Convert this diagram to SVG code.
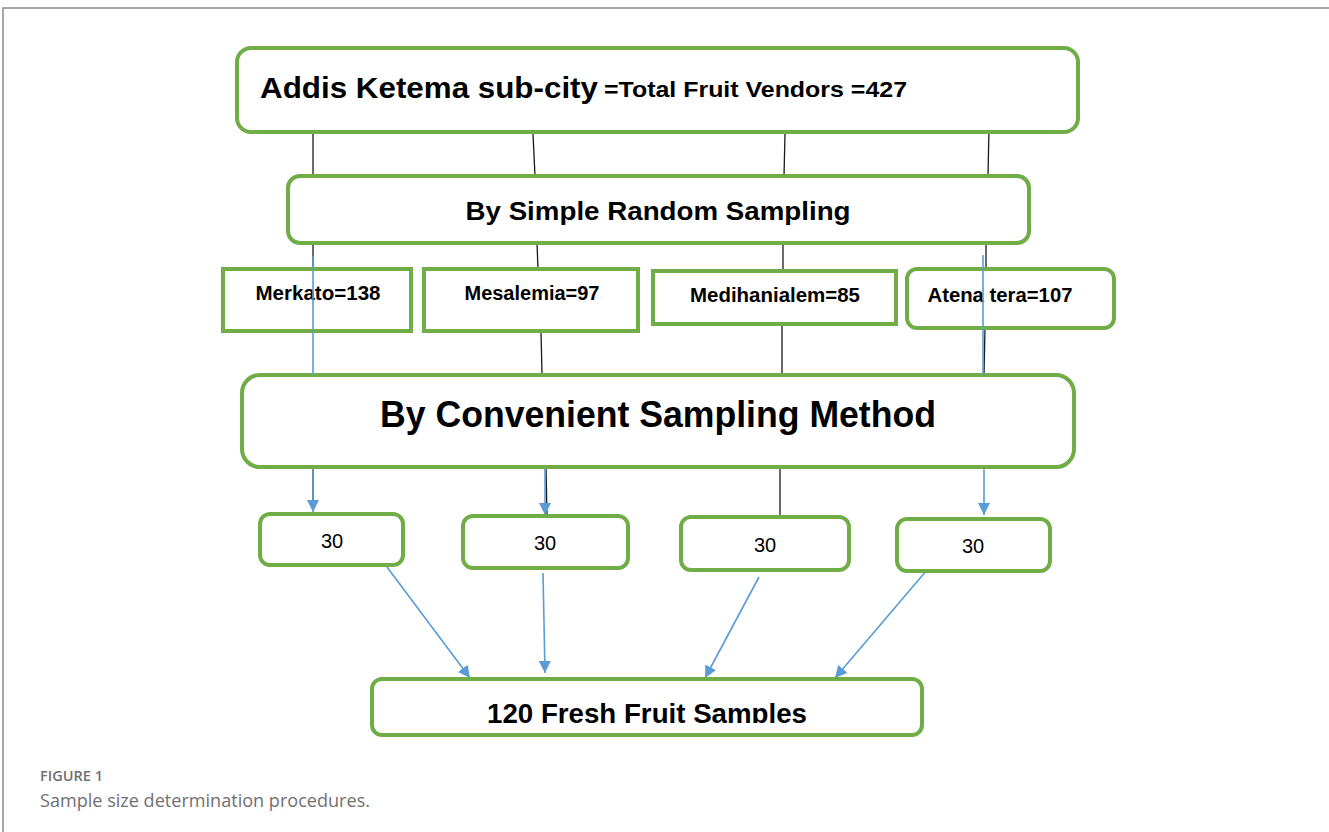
<svg xmlns="http://www.w3.org/2000/svg" width="1329" height="832" viewBox="0 0 1329 832">
  <style>
    .box { fill: #ffffff; stroke: #70AD47; stroke-width: 4; }
    .t { font-family: "Liberation Sans", Arial, sans-serif; font-weight: bold; fill: #000; text-anchor: middle; }
    .ts { font-family: "Liberation Sans", Arial, sans-serif; font-weight: bold; fill: #000; text-anchor: start; }
    .n { font-family: "Liberation Sans", Arial, sans-serif; fill: #000; text-anchor: middle; font-size: 20px; }
    .blk { stroke: #1a1a1a; stroke-width: 1.3; fill: none; }
    .blu { stroke: #5B9BD5; stroke-width: 1.6; fill: none; }
    .arr { stroke: #5B9BD5; stroke-width: 1.6; fill: none; marker-end: url(#head); }
    .cap { font-family: "Open Sans", "Liberation Sans", sans-serif; fill: #707070; }
  </style>
  <defs>
    <marker id="head" markerUnits="userSpaceOnUse" markerWidth="12" markerHeight="12" refX="12" refY="6" orient="auto">
      <path d="M0,0 L12,6 L0,12 z" fill="#5B9BD5"/>
    </marker>
    <clipPath id="bottomClip">
      <rect x="372" y="679" width="552" height="44"/>
    </clipPath>
  </defs>

  <rect width="1329" height="832" fill="#ffffff"/>

  <!-- page frame -->
  <path d="M3,832 V8 H1329" fill="none" stroke="#8c8c8c" stroke-width="1.5"/>

  <!-- connectors drawn beneath the boxes -->
  <g id="connectors">
    <!-- top box to simple random sampling -->
    <line class="blk" x1="313" y1="128" x2="313" y2="176"/>
    <line class="blk" x1="533" y1="134" x2="535" y2="176"/>
    <line class="blk" x1="785" y1="134" x2="784" y2="176"/>
    <line class="blk" x1="989" y1="128" x2="988" y2="176"/>
    <!-- simple random sampling to districts -->
    <line class="blk" x1="313" y1="243" x2="313" y2="269"/>
    <line class="blk" x1="537" y1="243" x2="538" y2="269"/>
    <line class="blk" x1="783" y1="243" x2="783" y2="271"/>
    <line class="blk" x1="986" y1="243" x2="986" y2="269"/>
    <!-- districts to convenient sampling -->
    <line class="blk" x1="541" y1="331" x2="542" y2="375"/>
    <line class="blk" x1="782" y1="324" x2="782" y2="375"/>
    <line class="blk" x1="985" y1="328" x2="984" y2="375"/>
    <!-- convenient sampling to sample boxes -->
    <line class="blk" x1="313" y1="467" x2="313" y2="510"/>
    <line class="blk" x1="546" y1="467" x2="547" y2="516"/>
    <line class="blk" x1="780" y1="467" x2="780" y2="517"/>
    <!-- arrows into the sample boxes and the total -->
    <line class="arr" x1="313" y1="467" x2="313" y2="512"/>
    <line class="arr" x1="545" y1="467" x2="545" y2="515"/>
    <line class="arr" x1="984" y1="467" x2="984" y2="515"/>
    <line class="arr" x1="387" y1="567" x2="470" y2="678"/>
    <line class="arr" x1="543" y1="573" x2="545" y2="673"/>
    <line class="arr" x1="759" y1="577" x2="705" y2="678"/>
    <line class="arr" x1="927" y1="570" x2="835" y2="678"/>
  </g>

  <g id="subcity">
    <rect class="box" x="237" y="48" width="841" height="84" rx="14"/>
    <text class="ts" x="260" y="98" font-size="30" textLength="338" lengthAdjust="spacingAndGlyphs">Addis Ketema sub-city</text>
    <text class="ts" x="604" y="97" font-size="22" textLength="303" lengthAdjust="spacingAndGlyphs">=Total Fruit Vendors =427</text>
  </g>

  <g id="simple-random">
    <rect class="box" x="288" y="176" width="741" height="67" rx="12"/>
    <text class="t" x="658" y="220" font-size="25" textLength="385" lengthAdjust="spacingAndGlyphs">By Simple Random Sampling</text>
  </g>

  <g id="merkato">
    <rect class="box" x="223" y="269" width="188" height="62"/>
    <text class="t" x="318" y="300" font-size="20" textLength="125" lengthAdjust="spacingAndGlyphs">Merkato=138</text>
  </g>
  <g id="mesalemia">
    <rect class="box" x="424" y="269" width="214" height="62"/>
    <text class="t" x="532" y="300" font-size="20" textLength="135" lengthAdjust="spacingAndGlyphs">Mesalemia=97</text>
  </g>
  <g id="medihanialem">
    <rect class="box" x="653" y="271" width="243" height="53"/>
    <text class="t" x="775" y="302" font-size="20" textLength="170" lengthAdjust="spacingAndGlyphs">Medihanialem=85</text>
  </g>
  <g id="atena-tera">
    <rect class="box" x="907" y="269" width="207" height="59" rx="10"/>
    <text class="t" x="1000" y="302" font-size="20" textLength="145" lengthAdjust="spacingAndGlyphs">Atena tera=107</text>
  </g>

  <g id="convenient">
    <rect class="box" x="242" y="375" width="832" height="92" rx="18"/>
    <text class="t" x="658" y="427" font-size="36" textLength="556" lengthAdjust="spacingAndGlyphs">By Convenient Sampling Method</text>
  </g>

  <g id="sample-merkato">
    <rect class="box" x="260" y="514" width="143" height="51" rx="10"/>
    <text class="n" x="332" y="548">30</text>
  </g>
  <g id="sample-mesalemia">
    <rect class="box" x="463" y="516" width="165" height="52" rx="10"/>
    <text class="n" x="545" y="550">30</text>
  </g>
  <g id="sample-medihanialem">
    <rect class="box" x="681" y="517" width="168" height="53" rx="10"/>
    <text class="n" x="765" y="552">30</text>
  </g>
  <g id="sample-atena">
    <rect class="box" x="897" y="519" width="153" height="52" rx="10"/>
    <text class="n" x="973" y="553">30</text>
  </g>

  <g id="total-samples">
    <rect class="box" x="372" y="679" width="550" height="56" rx="10"/>
    <text class="t" x="647" y="723" font-size="27" textLength="320" lengthAdjust="spacingAndGlyphs" clip-path="url(#bottomClip)">120 Fresh Fruit Samples</text>
  </g>

  <!-- blue flow lines that run across the district boxes -->
  <g id="flow-overlay">
    <line class="blu" x1="313" y1="256" x2="313" y2="375"/>
    <line class="blu" x1="983" y1="255" x2="983" y2="375"/>
  </g>

  <!-- caption -->
  <text class="cap" x="40" y="781" font-size="15" font-weight="600" textLength="63" lengthAdjust="spacingAndGlyphs">FIGURE 1</text>
  <text class="cap" x="40" y="807" font-size="18" textLength="330" lengthAdjust="spacingAndGlyphs">Sample size determination procedures.</text>
</svg>
